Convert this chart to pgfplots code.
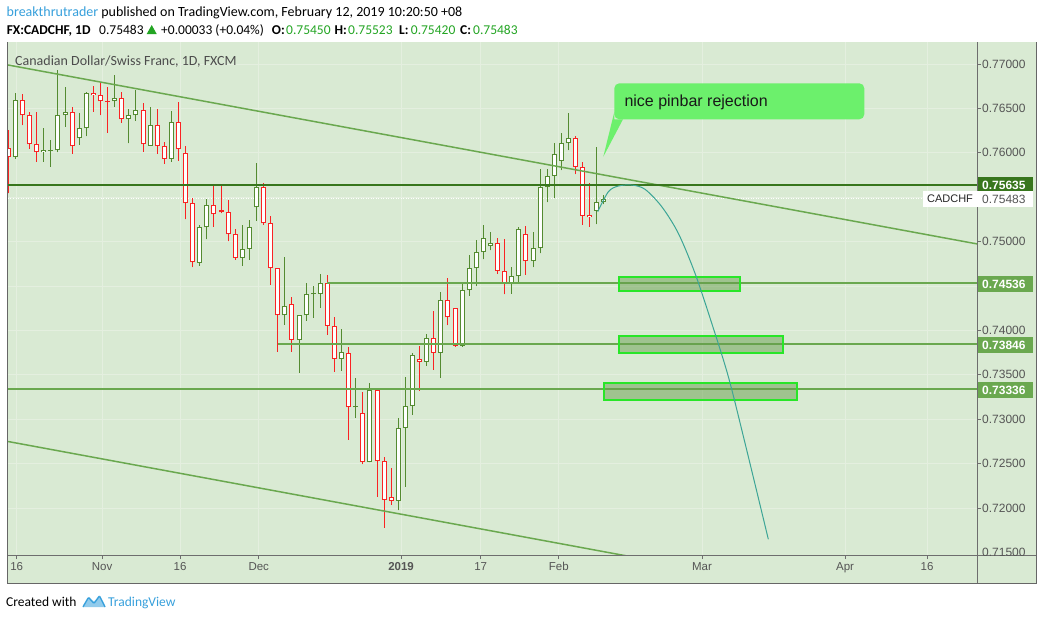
\documentclass[border=0pt]{standalone}
\usepackage{fontspec}
\setmainfont{Liberation Sans}
\newfontfamily\calfont{Carlito}
\usepackage{pgfplots}
\usepackage{pgfplotstable}
\pgfplotsset{compat=1.18}
\definecolor{bgc}{RGB}{217,234,211}
\definecolor{gridc}{RGB}{228,239,223}
\definecolor{upc}{RGB}{84,139,49}
\definecolor{dnc}{RGB}{250,35,35}
\definecolor{linec}{RGB}{106,168,79}
\definecolor{dkline}{RGB}{56,118,29}
\definecolor{axc}{RGB}{110,110,110}
\definecolor{lblc}{RGB}{85,85,85}
\definecolor{rectfill}{RGB}{103,158,77}
\definecolor{rectdraw}{RGB}{40,230,40}
\definecolor{curvec}{RGB}{60,165,150}
\definecolor{callc}{RGB}{108,240,108}
\definecolor{tvblue}{RGB}{55,160,220}
\definecolor{hdgreen}{RGB}{35,165,35}

% up candles: index, open, high, low, close
\pgfplotstableread{
k o h l c
2 0.75956 0.76673 0.75934 0.76591
6 0.76005 0.76275 0.75900 0.76031
7 0.76024 0.76144 0.75844 0.76028
8 0.76028 0.76932 0.76005 0.76422
9 0.76422 0.76741 0.76294 0.76456
11 0.76163 0.76444 0.76092 0.76275
12 0.76275 0.76685 0.76189 0.76673
16 0.76580 0.76876 0.76519 0.76613
18 0.76377 0.76493 0.76107 0.76422
19 0.76422 0.76707 0.76362 0.76478
21 0.76080 0.76512 0.76077 0.76309
24 0.75934 0.76467 0.75900 0.76343
28 0.74763 0.75187 0.74729 0.75161
29 0.75161 0.75476 0.75026 0.75408
34 0.74819 0.75183 0.74729 0.74920
35 0.74920 0.75240 0.74797 0.75161
36 0.75386 0.75885 0.75236 0.75611
40 0.74170 0.74823 0.74061 0.74271
42 0.73896 0.74170 0.73524 0.74170
43 0.74170 0.74530 0.74106 0.74406
44 0.74406 0.74496 0.74143 0.74414
45 0.74414 0.74631 0.74256 0.74530
48 0.73682 0.74012 0.73546 0.73753
50 0.73134 0.73460 0.73017 0.73141
52 0.72518 0.73404 0.72518 0.73333
56 0.72082 0.73010 0.71977 0.72905
57 0.72905 0.73471 0.72240 0.73152
58 0.73152 0.73749 0.73051 0.73727
60 0.73648 0.73963 0.73603 0.73918
62 0.73749 0.74429 0.73468 0.74346
65 0.73828 0.74545 0.73817 0.74451
66 0.74451 0.74845 0.74391 0.74699
67 0.74699 0.75014 0.74496 0.74879
68 0.74879 0.75183 0.74800 0.75037
69 0.74947 0.75104 0.74902 0.74981
72 0.74530 0.74710 0.74414 0.74609
73 0.74609 0.75161 0.74545 0.75138
75 0.74778 0.75104 0.74714 0.74924
76 0.74924 0.75814 0.74868 0.75611
77 0.75611 0.75814 0.75442 0.75742
78 0.75742 0.76107 0.75495 0.75986
79 0.75911 0.76219 0.75806 0.76107
80 0.76107 0.76444 0.76031 0.76163
84 0.75348 0.76069 0.75198 0.75450
85 0.75450 0.75523 0.75420 0.75483
}\upcandles

% down candles
\pgfplotstableread{
k o h l c
1 0.76050 0.76257 0.75544 0.75956
3 0.76591 0.76658 0.76313 0.76422
4 0.76422 0.76456 0.76043 0.76095
5 0.76095 0.76456 0.75900 0.76005
10 0.76456 0.76512 0.75990 0.76073
13 0.76670 0.76748 0.76463 0.76647
14 0.76647 0.76801 0.76422 0.76580
15 0.76583 0.76737 0.76227 0.76576
17 0.76613 0.76685 0.76339 0.76377
20 0.76478 0.76557 0.76013 0.76095
22 0.76309 0.76489 0.75990 0.76073
23 0.76073 0.76118 0.75878 0.75934
25 0.76343 0.76568 0.75911 0.76039
26 0.75994 0.76080 0.75251 0.75431
27 0.75431 0.75487 0.74714 0.74766
30 0.75408 0.75649 0.75168 0.75307
31 0.75352 0.75626 0.75320 0.75330
32 0.75330 0.75465 0.75003 0.75082
33 0.75082 0.75138 0.74797 0.74819
37 0.75611 0.75656 0.75191 0.75206
38 0.75206 0.75285 0.74515 0.74699
39 0.74699 0.74699 0.73757 0.74170
41 0.74294 0.74372 0.73757 0.73896
46 0.74530 0.74620 0.73952 0.74053
47 0.74053 0.74147 0.73535 0.73682
49 0.73749 0.73817 0.72766 0.73134
51 0.73066 0.73303 0.72495 0.72518
53 0.73333 0.73355 0.72124 0.72529
54 0.72533 0.72578 0.71778 0.72094
55 0.72127 0.72447 0.72034 0.72082
59 0.73674 0.73828 0.73321 0.73648
61 0.73918 0.74215 0.73558 0.73749
63 0.74346 0.74590 0.74060 0.74147
64 0.74248 0.74248 0.73817 0.73828
70 0.74981 0.75037 0.74639 0.74673
71 0.74673 0.75026 0.74406 0.74530
74 0.75082 0.75172 0.74624 0.74778
81 0.76163 0.76189 0.75761 0.75844
82 0.75844 0.75900 0.75187 0.75292
83 0.75300 0.75656 0.75168 0.75273
}\dncandles

\pgfplotsset{candle/.style={only marks, mark=*, mark size=0pt,
  mark options={draw=none, fill=none},
  error bars/.cd, y dir=plus, y explicit, error mark=none}}

\begin{document}
\begin{tikzpicture}
\begin{scope}[x=1pt,y=-1pt]
\useasboundingbox (0,0) rectangle (1040,619);
\fill[white] (0,0) rectangle (1040,619);
\fill[bgc] (7,42) rectangle (1036,583);
\end{scope}

\begin{axis}[
  at={(8pt,-555pt)}, anchor=south west,
  scale only axis, width=969pt, height=513pt,
  xmin=0.958, xmax=137.62, ymin=0.714707, ymax=0.772477,
  axis x line*=bottom, axis y line*=right,
  axis line style={draw=none,-},
  clip mode=individual,
  tick align=outside, major tick length=4pt,
  tick style={draw=axc, line width=0.8pt},
  xtick={2.18,14.22,25.22,36.32,56.39,67.63,78.63,98.84,119.01,130.58},
  xticklabels={16,Nov,16,Dec,\textbf{2019},17,Feb,Mar,Apr,16},
  ytick={0.72,0.725,0.73,0.735,0.74,0.75,0.76,0.765,0.77},
  extra y ticks={0.745,0.755}, extra y tick labels={},
  extra tick style={grid=major},
  grid=major, grid style={draw=gridc, line width=0.8pt},
  scaled y ticks=false,
  yticklabel={\pgfmathprintnumber[fixed,fixed zerofill,precision=5,assume math mode=true]{\tick}},
  yticklabel style={font=\fontsize{12}{14}\selectfont, text=lblc, anchor=west, inner sep=0pt, xshift=1pt},
  xticklabel style={font=\fontsize{11.5}{13}\selectfont, text=lblc, anchor=north, inner sep=0pt, yshift=-3pt},
]
% current price dotted line
\addplot[white, line width=0.8pt, dash pattern=on 1pt off 1.5pt] coordinates {(0.958,0.75483) (137.62,0.75483)};

% up candles
\addplot[candle, error bar style={draw=upc, line width=1pt, solid}]
  table[x=k, y=l, y error plus expr=\thisrow{h}-\thisrow{l}] {\upcandles};
\addplot[candle, error bar style={draw=upc, line width=5pt, solid}]
  table[x=k, y=o, y error plus expr={max(\thisrow{c}-\thisrow{o},0.00012)}] {\upcandles};
\addplot[candle, error bar style={draw=white, line width=3pt, solid}]
  table[x=k, y expr=\thisrow{o}+0.000113, y error plus expr={max(\thisrow{c}-\thisrow{o}-0.000226,0)}] {\upcandles};
% down candles
\addplot[candle, error bar style={draw=dnc, line width=1pt, solid}]
  table[x=k, y=l, y error plus expr=\thisrow{h}-\thisrow{l}] {\dncandles};
\addplot[candle, error bar style={draw=dnc, line width=5pt, solid}]
  table[x=k, y=c, y error plus expr={max(\thisrow{o}-\thisrow{c},0.00012)}] {\dncandles};
\addplot[candle, error bar style={draw=white, line width=3pt, solid}]
  table[x=k, y expr=\thisrow{c}+0.000113, y error plus expr={max(\thisrow{o}-\thisrow{c}-0.000226,0)}] {\dncandles};

% trend lines
\addplot[linec, line width=1.5pt] coordinates {(0.958,0.76989) (137.62,0.74974)};
\addplot[linec, line width=1.5pt] coordinates {(0.958,0.72749) (137.62,0.70731)};
% horizontal levels
\addplot[dkline, line width=2pt] coordinates {(0.958,0.75635) (137.62,0.75635)};
\addplot[linec, line width=1.6pt] coordinates {(46,0.74536) (137.62,0.74536)};
\addplot[linec, line width=1.6pt] coordinates {(39,0.73846) (137.62,0.73846)};
\addplot[linec, line width=1.8pt] coordinates {(0.958,0.73340) (137.62,0.73340)};
% target rectangles
\addplot[draw=rectdraw, line width=2pt, fill=rectfill, fill opacity=0.5] coordinates {(87.14,0.74598) (104.17,0.74598) (104.17,0.74444) (87.14,0.74444)} -- cycle;
\addplot[draw=rectdraw, line width=2pt, fill=rectfill, fill opacity=0.5] coordinates {(87.14,0.73934) (110.22,0.73934) (110.22,0.73746) (87.14,0.73746)} -- cycle;
\addplot[draw=rectdraw, line width=2pt, fill=rectfill, fill opacity=0.5] coordinates {(84.98,0.73404) (112.24,0.73404) (112.24,0.73216) (84.98,0.73216)} -- cycle;
% projected path
\addplot[curvec, line width=1pt, smooth, tension=0.5] coordinates {
(84.13,0.75337) (85.63,0.75562) (87.04,0.75626) (88.93,0.75637) (90.80,0.75589)
(93.16,0.75393) (95.50,0.75093) (97.85,0.74643) (100.21,0.74080) (102.55,0.73479)
(104.91,0.72728) (108.19,0.71648)};
\end{axis}

\begin{scope}[x=1pt,y=-1pt]
% frame and axis lines
\draw[axc, line width=0.8pt] (977,42) -- (977,583);
\draw[axc, line width=0.8pt] (7,555) -- (1036,555);
\draw[black!60, line width=1pt] (7,42) -- (7,583) -- (1036,583) -- (1036,42);
% cut-off bottom price label
\begin{scope}
\clip (977,540) rectangle (1036,555);
\node[anchor=west, inner sep=0pt, font=\fontsize{12}{14}\selectfont, text=lblc] at (982,552.4) {0.71500};
\end{scope}
% price level boxes
\fill[dkline] (977.5,177) rectangle (1033,194);
\node[anchor=west, inner sep=0pt, font=\bfseries\fontsize{12}{14}\selectfont, text=white] at (982,185.5) {0.75635};
\fill[white] (923,191) rectangle (1033,207);
\node[anchor=center, inner sep=0pt, font=\fontsize{11}{13}\selectfont, text=black!85] at (950,199) {CADCHF};
\node[anchor=west, inner sep=0pt, font=\fontsize{12}{14}\selectfont, text=lblc] at (982,199) {0.75483};
\fill[linec] (977.5,275.7) rectangle (1033,292.3);
\node[anchor=west, inner sep=0pt, font=\bfseries\fontsize{12}{14}\selectfont, text=white] at (982,284) {0.74536};
\fill[linec] (977.5,336.7) rectangle (1033,353.3);
\node[anchor=west, inner sep=0pt, font=\bfseries\fontsize{12}{14}\selectfont, text=white] at (982,345) {0.73846};
\fill[linec] (977.5,381.7) rectangle (1033,398.3);
\node[anchor=west, inner sep=0pt, font=\bfseries\fontsize{12}{14}\selectfont, text=white] at (982,390) {0.73336};
% callout
\fill[callc, rounded corners=5pt] (614.3,83.3) rectangle (864.3,119.3);
\fill[callc] (614.3,112) -- (603.3,156.7) -- (623,119.3) -- (614.3,119.3) -- cycle;
\node[anchor=base west, inner sep=0pt, font=\fontsize{16}{19}\selectfont, text=black!90] at (624.3,106) {nice pinbar rejection};
% chart title
\node[anchor=base west, inner sep=0pt, font=\calfont\fontsize{14}{17}\selectfont, text=black!70] at (15,65) {Canadian Dollar/Swiss Franc, 1D, FXCM};
% header line 1
\node[anchor=base west, inner sep=0pt, font=\calfont\fontsize{14}{17}\selectfont] at (6.5,16.5) {\textcolor{tvblue}{breakthrutrader} published on TradingView.com, February 12, 2019 10:20:50 +08};
% header line 2
\begin{scope}[every node/.style={anchor=base west, inner sep=0pt, font=\calfont\fontsize{13.5}{16}\selectfont}]
\node at (6.7,34.5) {\bfseries FX:CADCHF, 1D};
\node at (99,34.5) {0.75483};
\fill[hdgreen] (146.7,34) -- (156.7,34) -- (151.7,25) -- cycle;
\node at (161,34.5) {+0.00033 (+0.04\%)};
\node at (271.7,34.5) {\bfseries O:};
\node[text=hdgreen] at (286,34.5) {0.75450};
\node at (334.3,34.5) {\bfseries H:};
\node[text=hdgreen] at (348,34.5) {0.75523};
\node at (399,34.5) {\bfseries L:};
\node[text=hdgreen] at (410.7,34.5) {0.75420};
\node at (460,34.5) {\bfseries C:};
\node[text=hdgreen] at (473,34.5) {0.75483};
\end{scope}
% footer
\node[anchor=base west, inner sep=0pt, font=\calfont\fontsize{13.5}{16}\selectfont] at (6,606) {Created with};
\fill[tvblue!55, rounded corners=2pt] (82,607) -- (88.5,596) -- (94,602) -- (99.5,594.5) -- (106,607) -- cycle;
\draw[tvblue, line width=1.2pt, rounded corners=1pt] (83,607) -- (88.5,597.5) -- (94,603.5) -- (99.5,596) -- (105,607);
\node[anchor=base west, inner sep=0pt, font=\calfont\fontsize{13.5}{16}\selectfont, text=tvblue] at (108,606) {TradingView};
\end{scope}
\end{tikzpicture}
\end{document}
